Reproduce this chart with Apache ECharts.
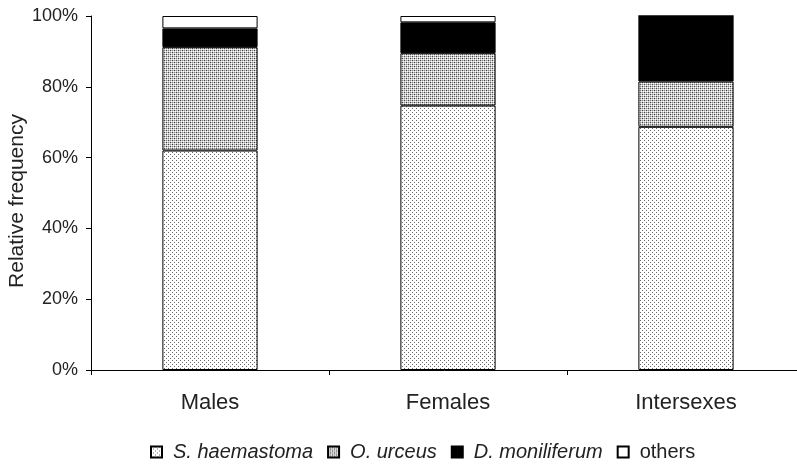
<!DOCTYPE html>
<html><head><meta charset="utf-8">
<script src="https://cdn.jsdelivr.net/npm/echarts@6/dist/echarts.min.js"></script>
<style>html,body{margin:0;padding:0;background:#fff}#c{width:797px;height:464px}</style>
</head><body><div id="c"></div>
<script>
const categories = ['Males', 'Females', 'Intersexes'];
const seriesNames = ['S. haemastoma', 'O. urceus', 'D. moniliferum', 'others'];
const sHaemastoma = [62.0, 74.7, 68.7];
const oUrceus = [29.2, 14.8, 12.8];
const dMoniliferum = [5.3, 8.7, 18.5];
const others = [3.5, 1.8, 0];
const yTicks = [0, 20, 40, 60, 80, 100];

function makePattern(size, bg, dots) {
  const c = document.createElement('canvas');
  c.width = size; c.height = size;
  const g = c.getContext('2d');
  g.fillStyle = bg; g.fillRect(0, 0, size, size);
  dots.forEach(d => { g.fillStyle = d[2]; g.fillRect(d[0], d[1], 1, 1); });
  return { image: c, repeat: 'repeat' };
}
const patS = makePattern(4, '#ffffff', [[0,0,'#666'],[2,2,'#666']]);
const patO = makePattern(4, '#c8c8c8', [[0,0,'#444'],[2,0,'#888'],[0,2,'#888'],[2,2,'#444'],[1,1,'#fff'],[3,3,'#fff'],[1,3,'#fff'],[3,1,'#fff']]);
const fills = [patS, patO, '#000000', '#ffffff'];
const dataSets = [sHaemastoma, oUrceus, dMoniliferum, others];

const chart = echarts.init(document.getElementById('c'), null, {renderer: 'canvas'});
chart.setOption({
  animation: false,
  textStyle: { fontFamily: 'Liberation Sans, Arial, sans-serif', color: '#111' },
  grid: { left: 91, top: 16, height: 354, width: 714, containLabel: false, outerBoundsMode: 'none' },
  legend: {
    bottom: 2, left: 150, padding: 0,
    icon: 'rect',
    itemWidth: 11, itemHeight: 11, itemGap: 14,
    data: seriesNames,
    textStyle: { fontSize: 20, color: '#222', padding: [0,0,0,6],
      rich: { i: { fontStyle: 'italic', fontSize: 20, color: '#222' }, n: { fontSize: 20, color: '#222' } } },
    formatter: n => n === 'others' ? '{n|' + n + '}' : '{i|' + n + '}'
  },
  xAxis: {
    type: 'category', data: categories,
    axisLine: { lineStyle: { color: '#000', width: 1 } },
    axisTick: { show: true, length: 5, lineStyle: { color: '#000' } },
    axisLabel: { fontSize: 22, color: '#222', margin: 22 }
  },
  yAxis: {
    type: 'value', min: 0, max: 100, interval: 20,
    name: 'Relative frequency', nameLocation: 'middle', nameGap: 63, nameRotate: 90,
    nameMoveOverlap: false,
    nameTextStyle: { fontSize: 21, color: '#222', padding: [0, 16, 0, 0] },
    axisLine: { show: true, lineStyle: { color: '#000', width: 1 } },
    axisTick: { show: true, length: 5, lineStyle: { color: '#000' } },
    splitLine: { show: false },
    axisLabel: { fontSize: 18, color: '#222', margin: 13, formatter: v => yTicks.includes(v) ? v + '%' : '' }
  },
  series: seriesNames.map((name, i) => ({
    name, type: 'bar', stack: 'total', barWidth: '40%',
    data: dataSets[i],
    itemStyle: { color: fills[i], borderColor: '#000', borderWidth: 1 }
  }))
});
</script></body></html>
